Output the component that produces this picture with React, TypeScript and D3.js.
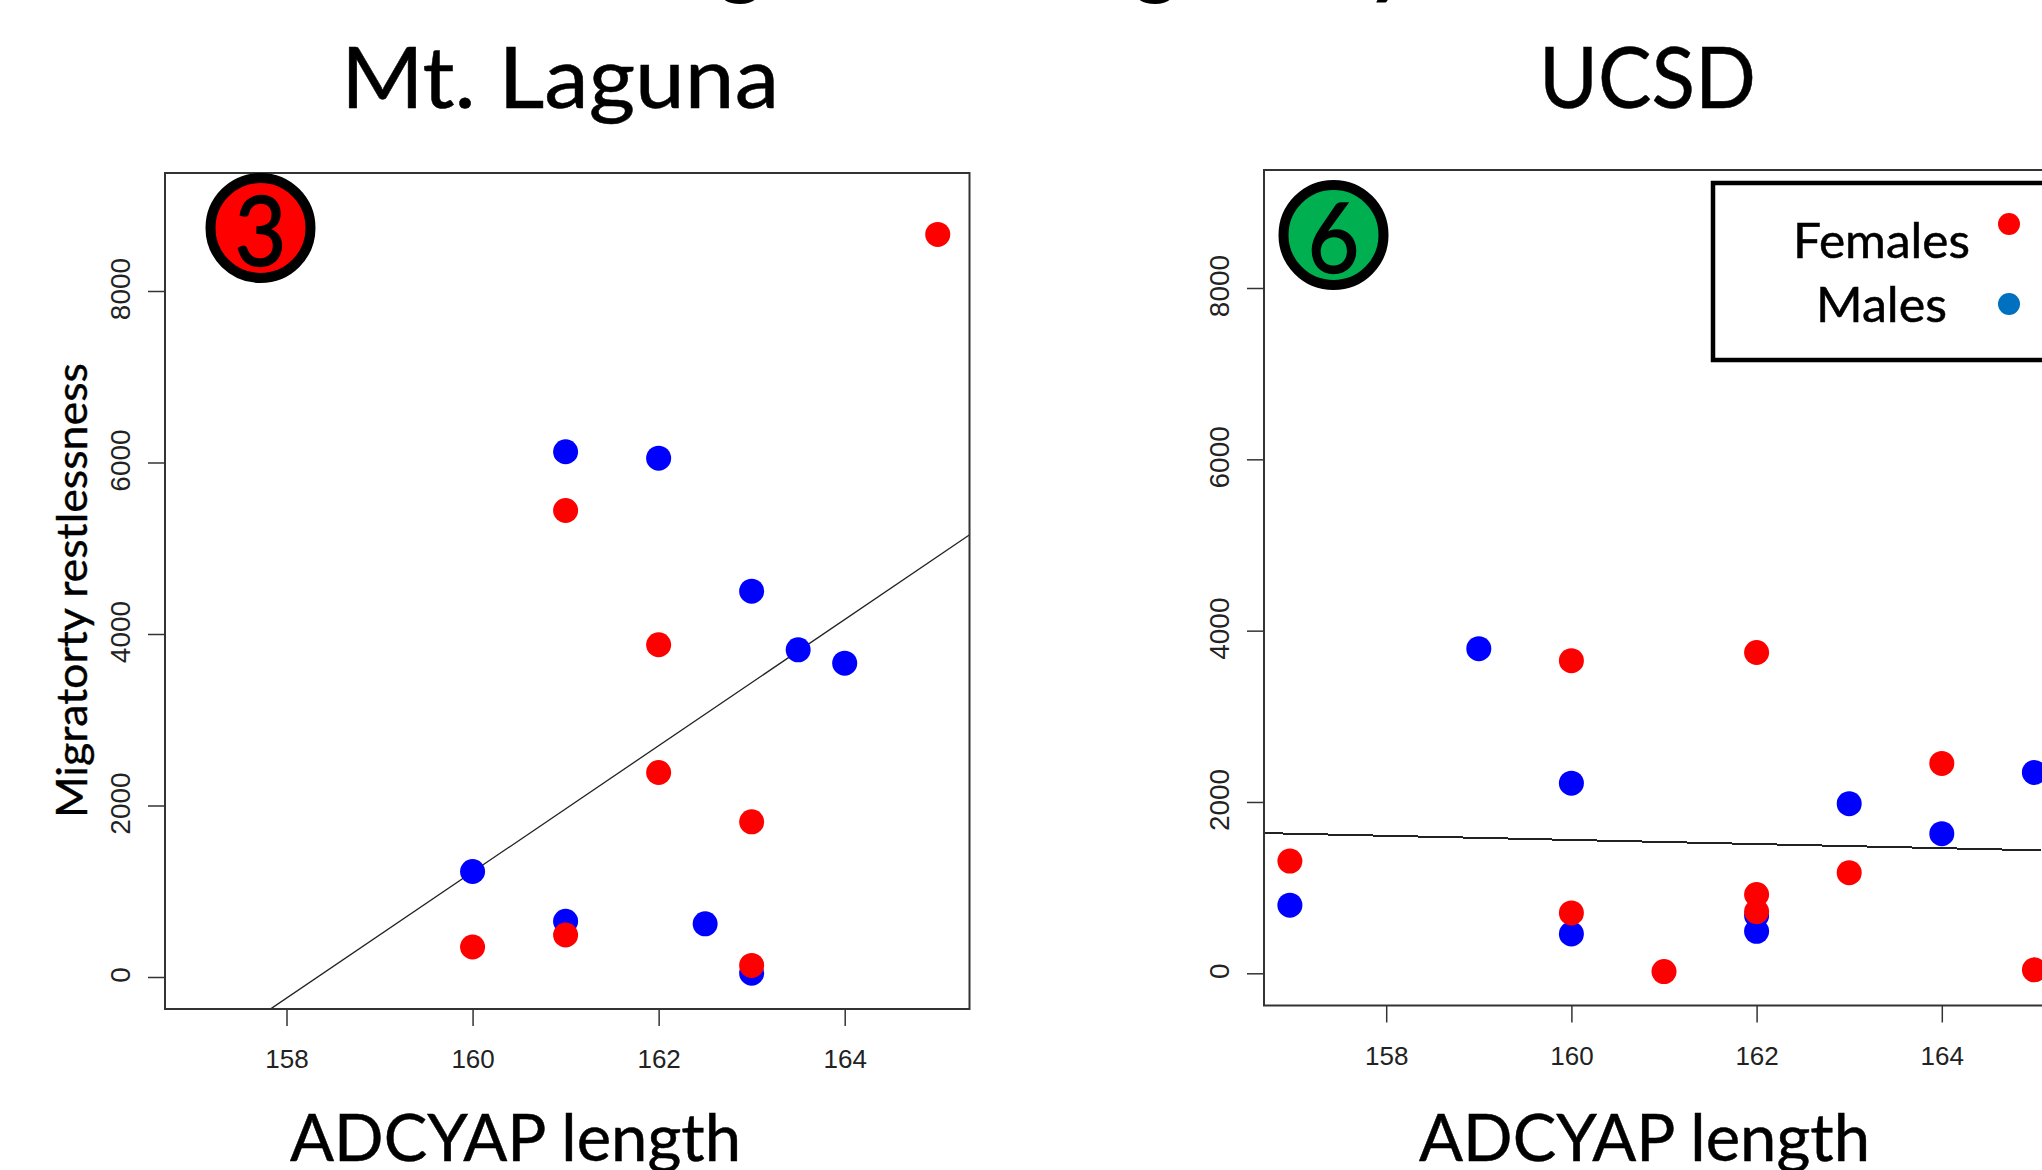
import React, { useEffect, useRef } from 'react';
import * as d3 from 'd3';

type Pt = [number, number];

// [ADCYAP length, migratory restlessness]
const lagunaFemales: Pt[] = [
  [165, 8660], [161, 5440], [162, 3875], [162, 2385],
  [163, 1810], [160, 350], [161, 490], [163, 135],
];
const lagunaMales: Pt[] = [
  [161, 6125], [162, 6050], [163, 4500], [163.5, 3815], [164, 3660],
  [160, 1230], [161, 650], [162.5, 620], [163, 45],
];
const lagunaFit: Pt[] = [[157.83, -372], [165.36, 5170]];

const ucsdFemales: Pt[] = [
  [156.96, 1310], [160, 3650], [162, 3745], [164, 2450], [163, 1175],
  [162, 920], [162, 720], [160, 705], [161, 20], [165, 40],
];
const ucsdMales: Pt[] = [
  [156.96, 795], [159, 3790], [160, 2220], [160, 460], [162, 675],
  [162, 490], [163, 1980], [164, 1630], [165, 2345],
];
const ucsdFit: Pt[] = [[156.67, 1637], [165.07, 1435]];

const xTicks = [158, 160, 162, 164];
const yTicks = [0, 2000, 4000, 6000, 8000];

const sans = 'Lato, "Open Sans", sans-serif';
const RED = '#ff0000';
const BLUE = '#0000ff';

// text squeezed to the measured width, since Calibri is not installed
function label(g: any, s: string, x0: number, x1: number, base: number, size: number) {
  g.append('text')
    .attr('x', x0).attr('y', base)
    .attr('font-family', sans).attr('font-size', size)
    .attr('stroke', '#000').attr('stroke-width', 0.5)
    .attr('textLength', x1 - x0).attr('lengthAdjust', 'spacingAndGlyphs')
    .text(s);
}

function panel(svg: any, o: any) {
  const x = d3.scaleLinear().domain([158, 164]).range(o.xr);
  const y = d3.scaleLinear().domain([0, 8000]).range(o.yr);
  const [l, r, t, b] = o.box;
  const clipId = 'clip' + o.name.replace(/\W/g, '');

  svg.append('clipPath').attr('id', clipId)
    .append('rect').attr('x', l).attr('y', t).attr('width', r - l).attr('height', b - t);

  const line = d3.line<Pt>().x(d => x(d[0])).y(d => y(d[1]));
  svg.append('path').datum(o.fit)
    .attr('clip-path', `url(#${clipId})`)
    .attr('fill', 'none').attr('stroke', '#222').attr('stroke-width', o.fitWidth)
    .attr('shape-rendering', o.crisp ? 'crispEdges' : 'auto')
    .attr('d', line);

  // males first, females sit on top where they overlap
  svg.append('g').selectAll('circle').data(o.males).join('circle')
    .attr('cx', (d: Pt) => x(d[0])).attr('cy', (d: Pt) => y(d[1])).attr('r', 12.5).attr('fill', BLUE);
  svg.append('g').selectAll('circle').data(o.females).join('circle')
    .attr('cx', (d: Pt) => x(d[0])).attr('cy', (d: Pt) => y(d[1])).attr('r', 12.5).attr('fill', RED);

  svg.append('rect')
    .attr('x', l).attr('y', t).attr('width', r - l).attr('height', b - t)
    .attr('fill', 'none').attr('stroke', '#333').attr('stroke-width', 2);

  const xAxis = svg.append('g').attr('transform', `translate(0,${b})`)
    .call(d3.axisBottom(x).tickValues(xTicks).tickSize(17).tickPadding(24).tickFormat(d3.format('d') as any));
  xAxis.select('.domain').remove();
  xAxis.selectAll('line').attr('stroke', '#333').attr('stroke-width', 1.5);
  xAxis.selectAll('text').attr('font-family', 'Liberation Sans').attr('font-size', 26).attr('fill', '#222');

  const yAxis = svg.append('g').attr('transform', `translate(${l},0)`)
    .call(d3.axisLeft(y).tickValues(yTicks).tickSize(17).tickFormat(d3.format('d') as any));
  yAxis.select('.domain').remove();
  yAxis.selectAll('line').attr('stroke', '#333').attr('stroke-width', 1.5);
  yAxis.selectAll('text')
    .attr('font-family', 'Liberation Sans').attr('font-size', 28).attr('fill', '#222')
    .attr('text-anchor', 'middle')
    .attr('transform', 'rotate(-90)')
    .attr('x', 2.5).attr('y', -35).attr('dy', 0);

  // numbered badge
  const [cx, cy] = o.badge;
  svg.append('circle').attr('cx', cx).attr('cy', cy).attr('r', 50)
    .attr('fill', o.badgeFill).attr('stroke', '#000').attr('stroke-width', 10);
  svg.append('text').attr('x', cx - 26).attr('y', o.badgeBase)
    .attr('font-family', sans).attr('font-size', 97)
    .attr('stroke', '#000').attr('stroke-width', 1.5)
    .attr('textLength', 52).attr('lengthAdjust', 'spacingAndGlyphs')
    .text(o.badgeText);

  label(svg, o.name, o.title[0], o.title[1], 108, 85);
  label(svg, 'ADCYAP length', o.xlab[0], o.xlab[1], 1161, 65);
}

export default function App() {
  const ref = useRef<SVGSVGElement | null>(null);

  useEffect(() => {
    const svg = d3.select(ref.current);
    svg.selectAll('*').remove();

    // only the tails of the slide heading are left inside the frame
    [[741, 'g'], [1156, 'g'], [1389, 'y']].forEach(([px, s]) => {
      svg.append('text').attr('x', px as number).attr('y', -12).attr('text-anchor', 'middle')
        .attr('font-family', sans).attr('font-size', 85).attr('font-weight', 700).text(s as string);
    });

    panel(svg, {
      name: 'Mt. Laguna', females: lagunaFemales, males: lagunaMales, fit: lagunaFit,
      xr: [286.5, 844.7], yr: [977, 291], box: [165, 969.5, 173, 1009],
      badge: [260.5, 228], badgeFill: RED, badgeText: '3', badgeBase: 266,
      title: [341, 779], xlab: [290, 741], fitWidth: 1.3, crisp: false,
    });
    panel(svg, {
      name: 'UCSD', females: ucsdFemales, males: ucsdMales, fit: ucsdFit,
      xr: [1386.2, 1941.8], yr: [973.3, 288], box: [1264, 2100, 170, 1005.5],
      badge: [1333.5, 235], badgeFill: '#00b050', badgeText: '6', badgeBase: 273,
      title: [1539, 1756], xlab: [1419, 1870], fitWidth: 2, crisp: true,
    });

    svg.append('text')
      .attr('transform', 'translate(87,818) rotate(-90)')
      .attr('font-family', sans).attr('font-size', 42)
      .attr('stroke', '#000').attr('stroke-width', 0.4)
      .attr('textLength', 455).attr('lengthAdjust', 'spacingAndGlyphs')
      .text('Migratorty restlessness');

    // legend runs off the right edge of the frame
    svg.append('rect').attr('x', 1713).attr('y', 183).attr('width', 400).attr('height', 177)
      .attr('fill', '#fff').attr('stroke', '#000').attr('stroke-width', 4.5);
    label(svg, 'Females', 1793, 1970, 258, 48);
    label(svg, 'Males', 1816, 1947, 322, 48);
    svg.append('circle').attr('cx', 2009).attr('cy', 224).attr('r', 11).attr('fill', RED);
    svg.append('circle').attr('cx', 2009).attr('cy', 304).attr('r', 11).attr('fill', '#0070c0');
  }, []);

  return (
    <svg
      ref={ref}
      width={2042}
      height={1170}
      style={{ position: 'absolute', left: 0, top: 0, background: '#fff' }}
    />
  );
}
